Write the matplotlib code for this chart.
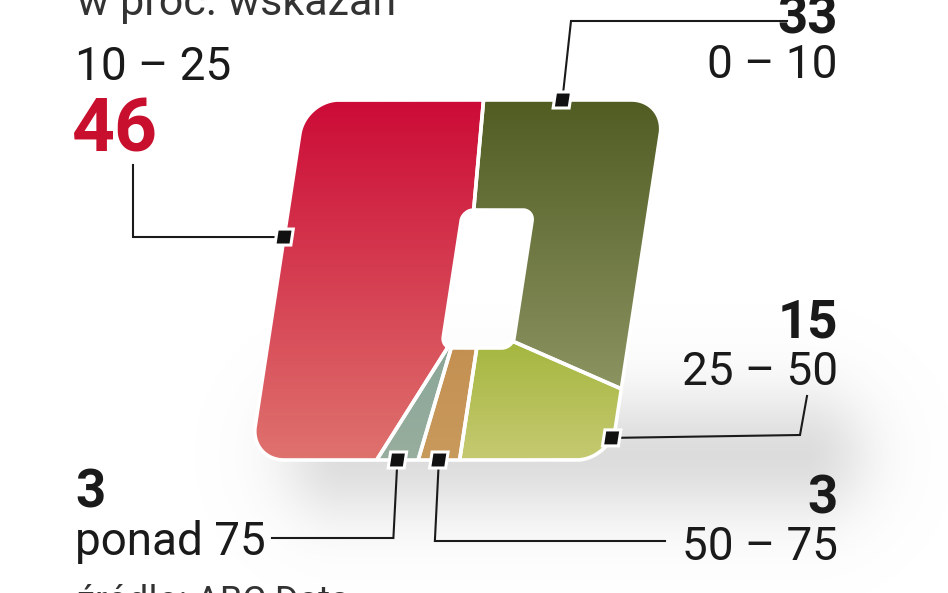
import numpy as np
import matplotlib
matplotlib.use("Agg")
import matplotlib.pyplot as plt
from matplotlib.path import Path
from matplotlib.patches import PathPatch, Rectangle
from matplotlib.transforms import Affine2D
from matplotlib.colors import LinearSegmentedColormap

plt.rcParams['font.family'] = ['Roboto', 'DejaVu Sans']

# segments in order round the shape, starting at the top and going left
labels = ["10 – 25", "ponad 75", "50 – 75", "25 – 50", "0 – 10"]
values = [46, 3, 3, 15, 33]
top_colors = ["#cc0a36", "#8aa698", "#c49052", "#a4b63e", "#505c22"]
bottom_colors = ["#df736e", "#98ae9e", "#c89a5c", "#c6ca72", "#8c9462"]

title = "w proc. wskazań"
source = "źródło: ABC Data"

# geometry of the slanted square (pixel units, unsheared)
X0, X1, Y0, Y1, R = 277.5, 638.0, 100.0, 460.0, 34.0
HX0, HX1, HY0, HY1, HR = 452.0, 523.0, 210.0, 348.0, 11.0
K, YC = 0.153, 280.0

fig = plt.figure(figsize=(9.48, 5.93), dpi=100)
ax = fig.add_axes([0, 0, 1, 1])
ax.set_xlim(0, 948)
ax.set_ylim(593, 0)
ax.axis('off')

shear = Affine2D.from_values(1, 0, -K, 1, K * YC, 0) + ax.transData


def outline(x0, y0, x1, y1, r, sx, n=3001):
    pts = [(sx, y0)]
    corners = [((x0 + r, y0 + r), -90, -180), ((x0 + r, y1 - r), 180, 90),
               ((x1 - r, y1 - r), 90, 0), ((x1 - r, y0 + r), 0, -90)]
    for (cx, cy), a, b in corners:
        t = np.radians(np.linspace(a, b, 40))
        pts += list(zip(cx + r * np.cos(t), cy + r * np.sin(t)))
    pts.append((sx, y0))
    pts = np.array(pts)
    s = np.concatenate([[0], np.cumsum(np.hypot(*np.diff(pts, axis=0).T))])
    u = np.linspace(0, s[-1], n)
    return np.column_stack([np.interp(u, s, pts[:, 0]), np.interp(u, s, pts[:, 1])])


start_x = 456.0
outer = outline(X0, Y0, X1, Y1, R, start_x)
inner = outline(HX0, HY0, HX1, HY1, HR, np.clip(start_x, HX0 + HR, HX1 - HR))

# soft floor shadow
yy, xx = np.mgrid[0:593, 0:948] + 0.5
qx = np.abs(xx - 575) - 280 + 50
qy = np.abs(yy - 455) - 50 + 50
d = np.hypot(np.maximum(qx, 0), np.maximum(qy, 0)) + np.minimum(np.maximum(qx, qy), 0) - 50
shade = np.zeros((593, 948, 4))
shade[..., :3] = 0.6
shade[..., 3] = 0.38 / (1 + np.exp(d / 22))
ax.imshow(shade, extent=[0, 948, 593, 0], zorder=0, aspect='auto')

cum = np.concatenate([[0], np.cumsum(values)]) / sum(values)
o_idx = np.round(cum * (len(outer) - 1)).astype(int)
i_idx = [int(np.argmin(np.hypot(*(inner - outer[k]).T))) for k in o_idx]
i_idx[0], i_idx[-1] = 0, len(inner) - 1
i_idx = np.maximum.accumulate(i_idx)

grad = np.linspace(0, 1, 256).reshape(-1, 1)
for j in range(len(values)):
    poly = np.vstack([outer[o_idx[j]:o_idx[j + 1] + 1],
                      inner[i_idx[j]:i_idx[j + 1] + 1][::-1]])
    path = Path(poly, closed=False)
    clip = PathPatch(path, transform=shear, facecolor='none', edgecolor='none')
    cmap = LinearSegmentedColormap.from_list("g%d" % j, [top_colors[j], bottom_colors[j]])
    im = ax.imshow(grad, cmap=cmap, extent=[poly[:, 0].min() - 2, poly[:, 0].max() + 2,
                                           poly[:, 1].max() + 2, poly[:, 1].min() - 2],
                   transform=shear, aspect='auto', zorder=2)
    im.set_clip_path(clip)
    ax.add_patch(PathPatch(Path(np.vstack([poly, poly[:1]])), transform=shear,
                           facecolor='none', edgecolor='white', lw=2.6,
                           joinstyle='round', zorder=3))

ax.set_xlim(0, 948)
ax.set_ylim(593, 0)

# leaders: marker spot on the shape (None = middle of the slice), elbow, label end
leaders = {
    "10 – 25": [(289, 237), (133, 237), (133, 165)],
    "0 – 10": [(563, 97), (571, 21), (787, 21)],
    "25 – 50": [(607, 436), (800, 435), (807, 396)],
    "ponad 75": [None, (None, 538), (272, 538)],
    "50 – 75": [None, (None, 541), (665, 541)],
}
for lab, pts in leaders.items():
    j = labels.index(lab)
    if pts[0] is None:
        k = (o_idx[j] + o_idx[j + 1]) // 2
    else:
        hx, hy = pts[0]
        xu = hx + K * (hy - YC)
        k = np.argmin(np.hypot(outer[:, 0] - xu, outer[:, 1] - hy))
    mx, my = outer[k]
    sx, sy = shear.transform((mx, my))
    sx, sy = ax.transData.inverted().transform((sx, sy))
    line = [(sx, sy)]
    for p in pts[1:]:
        line.append((sx - 4 if p[0] is None else p[0], p[1]))
    line = np.array(line, dtype=float)
    ax.plot(line[:, 0], line[:, 1], color='#1a1a1a', lw=1.5, zorder=4,
            solid_joinstyle='miter')
    ax.add_patch(Rectangle((mx - 8, my - 8), 16, 16, transform=shear,
                           facecolor='#111111', edgecolor='white', lw=2.2, zorder=5))

val = dict(zip(labels, values))
txt = dict(color='#1a1a1a', va='baseline')
ax.text(77, 15, title, fontsize=31, color='#333333', va='baseline')
ax.text(75, 80, labels[0], fontsize=33, **txt)
ax.text(72, 152, str(val["10 – 25"]), fontsize=54, fontweight='bold', color='#c8102e', va='baseline')
ax.text(838, 33, str(val["0 – 10"]), fontsize=38, fontweight='bold', ha='right', **txt)
ax.text(838, 78, "0 – 10", fontsize=33, ha='right', **txt)
ax.text(838, 338, str(val["25 – 50"]), fontsize=38, fontweight='bold', ha='right', **txt)
ax.text(838, 385, "25 – 50", fontsize=33, ha='right', **txt)
ax.text(75, 508, str(val["ponad 75"]), fontsize=38, fontweight='bold', **txt)
ax.text(75, 555, "ponad 75", fontsize=33, **txt)
ax.text(838, 514, str(val["50 – 75"]), fontsize=38, fontweight='bold', ha='right', **txt)
ax.text(838, 560, "50 – 75", fontsize=33, ha='right', **txt)
ax.text(77, 612, source, fontsize=26, color='#333333', va='baseline')

fig.savefig("out.png", dpi=100)
